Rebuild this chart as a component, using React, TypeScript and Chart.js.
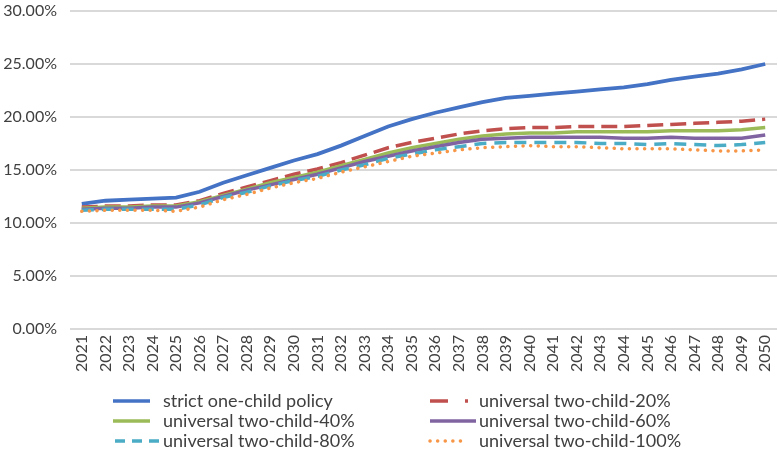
import React, { useEffect, useRef } from 'react';
import { Chart, registerables } from 'chart.js';

Chart.register(...registerables);

const years = ['2021','2022','2023','2024','2025','2026','2027','2028','2029','2030','2031','2032','2033','2034','2035','2036','2037','2038','2039','2040','2041','2042','2043','2044','2045','2046','2047','2048','2049','2050'];

const seriesNames = [
  'strict one-child policy',
  'universal two-child-20%',
  'universal two-child-40%',
  'universal two-child-60%',
  'universal two-child-80%',
  'universal two-child-100%',
];

const strictOneChild = [11.8,12.1,12.2,12.3,12.4,12.95,13.8,14.5,15.2,15.9,16.5,17.3,18.2,19.1,19.8,20.4,20.9,21.4,21.8,22.0,22.2,22.4,22.6,22.8,23.1,23.5,23.8,24.1,24.5,25.0];
const twoChild20 = [11.5,11.6,11.6,11.7,11.7,12.1,12.8,13.4,14.0,14.6,15.1,15.7,16.4,17.1,17.6,18.0,18.4,18.7,18.9,19.0,19.0,19.1,19.1,19.1,19.2,19.3,19.4,19.5,19.6,19.8];
const twoChild40 = [11.4,11.5,11.5,11.6,11.6,12.0,12.6,13.2,13.8,14.3,14.8,15.4,16.0,16.6,17.1,17.5,17.9,18.2,18.4,18.5,18.5,18.6,18.6,18.6,18.6,18.7,18.7,18.7,18.8,19.0];
const twoChild60 = [11.3,11.4,11.4,11.5,11.5,11.9,12.5,13.1,13.6,14.1,14.6,15.2,15.8,16.3,16.8,17.2,17.6,17.9,18.0,18.1,18.1,18.1,18.1,18.0,18.0,18.1,18.0,18.0,18.0,18.3];
const twoChild80 = [11.2,11.3,11.3,11.3,11.3,11.7,12.4,12.9,13.5,14.0,14.4,15.0,15.5,16.1,16.5,16.9,17.2,17.5,17.6,17.6,17.6,17.6,17.5,17.5,17.4,17.5,17.4,17.3,17.4,17.6];
const twoChild100 = [11.1,11.2,11.2,11.2,11.1,11.5,12.2,12.7,13.3,13.8,14.2,14.8,15.3,15.8,16.3,16.6,16.9,17.1,17.2,17.3,17.2,17.2,17.1,17.0,17.0,17.0,16.9,16.8,16.8,16.9];

const yMin = 0;
const yMax = 30;
const yStep = 5;

const colors = ['#4472C4', '#C0504D', '#9BBB59', '#8064A2', '#4BACC6', '#F79646'];
const FONT = 'Lato, "Noto Sans", sans-serif';
const TEXT = '#404040';

const legendPlugin = {
  id: 'twoColLegend',
  afterDraw(chart: any) {
    const ctx = chart.ctx as CanvasRenderingContext2D;
    const col = [
      { line: 113, text: 163 },
      { line: 430, text: 479 },
    ];
    const rows = [401, 421, 441];
    ctx.save();
    ctx.font = `18px ${FONT}`;
    ctx.fillStyle = TEXT;
    ctx.textBaseline = 'middle';
    ctx.textAlign = 'left';
    seriesNames.forEach((name, i) => {
      const c = col[i % 2];
      const y = rows[Math.floor(i / 2)];
      ctx.strokeStyle = colors[i];
      ctx.lineWidth = 3.5;
      ctx.lineCap = 'butt';
      ctx.beginPath();
      if (i === 0 || i === 2) {
        ctx.setLineDash([]);
        ctx.moveTo(c.line, y); ctx.lineTo(c.line + 37, y);
      } else if (i === 1) {
        ctx.setLineDash([18, 17, 3, 40]);
        ctx.moveTo(c.line, y); ctx.lineTo(c.line + 38, y);
      } else if (i === 3) {
        ctx.setLineDash([]);
        ctx.moveTo(c.line, y); ctx.lineTo(c.line + 46, y);
      } else if (i === 4) {
        ctx.setLineDash([10, 7]);
        ctx.moveTo(c.line + 2, y); ctx.lineTo(c.line + 46, y);
      } else {
        ctx.setLineDash([0.1, 7.5]);
        ctx.lineCap = 'round';
        ctx.moveTo(c.line, y); ctx.lineTo(c.line + 32, y);
      }
      ctx.stroke();
      ctx.setLineDash([]);
      ctx.fillText(name, c.text, y);
    });
    ctx.restore();
  },
};

export default function App() {
  const ref = useRef<HTMLCanvasElement | null>(null);
  useEffect(() => {
    if (!ref.current) return;
    const values = [strictOneChild, twoChild20, twoChild40, twoChild60, twoChild80, twoChild100];
    const dashes: number[][] = [[], [16, 7], [], [], [12, 8], [0.1, 7.5]];
    const chart = new Chart(ref.current, {
      type: 'line',
      data: {
        labels: years,
        datasets: values.map((v, i) => ({
          label: seriesNames[i],
          data: v,
          borderColor: colors[i],
          backgroundColor: colors[i],
          borderWidth: i === 0 ? 3.8 : 3.5,
          borderDash: dashes[i],
          borderCapStyle: i === 5 ? 'round' : 'butt',
          pointRadius: 0,
          tension: 0,
          fill: false,
        })).reverse() as any,
      },
      options: {
        animation: false,
        responsive: false,
        devicePixelRatio: 1,
        layout: { autoPadding: false, padding: { top: 11, right: 1, bottom: 77, left: 0 } },
        plugins: {
          legend: { display: false },
          title: { display: false },
          tooltip: { enabled: false },
        },
        scales: {
          x: {
            offset: true,
            grid: { display: false, drawTicks: false },
            border: { display: false },
            ticks: {
              minRotation: 90,
              maxRotation: 90,
              autoSkip: false,
              padding: 6,
              color: TEXT,
              font: { family: FONT, size: 16 },
            },
            afterFit(scale: any) {
              scale.height = 45;
              scale.paddingLeft = 0; scale.paddingRight = 0;
              scale.paddingTop = 0; scale.paddingBottom = 0;
            },
          },
          y: {
            min: yMin,
            max: yMax,
            grid: { color: '#D9D9D9', lineWidth: 2, drawTicks: false },
            border: { display: false },
            ticks: {
              stepSize: yStep,
              padding: 13,
              color: TEXT,
              font: { family: FONT, size: 16 },
              callback: (v: any) => Number(v).toFixed(2) + '%',
            },
            afterFit(scale: any) {
              scale.width = 70;
              scale.paddingTop = 0; scale.paddingBottom = 0;
            },
          },
        },
      },
      plugins: [legendPlugin],
    });
    return () => chart.destroy();
  }, []);
  return (
    <div style={{ position: 'absolute', left: 0, top: 0, width: 778, height: 451, background: '#fff' }}>
      <canvas ref={ref} width={778} height={451} style={{ display: 'block' }} />
    </div>
  );
}
